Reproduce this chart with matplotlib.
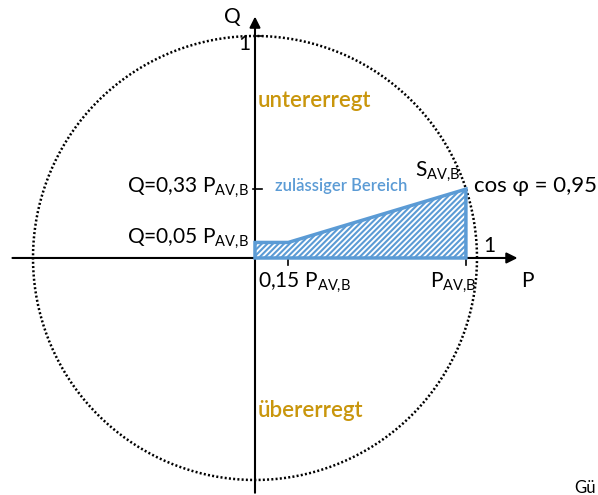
import numpy as np
import matplotlib.pyplot as plt
from matplotlib.patches import Polygon

plt.rcParams['font.family'] = ['Lato', 'DejaVu Sans']
plt.rcParams['mathtext.fontset'] = 'custom'
plt.rcParams['mathtext.rm'] = 'Lato'
plt.rcParams['mathtext.it'] = 'Lato:italic'
plt.rcParams['hatch.linewidth'] = 1.5

# --- operating range in per-unit of S ---
p_av = 0.95          # P_AV,B (cos phi = 0.95 on the unit circle)
p_knee = 0.15        # 0,15 P_AV,B
q_low = 0.07         # Q = 0,05 P_AV,B (drawn height)
q_high = 0.31        # Q = 0,33 P_AV,B

region_p = [0, 0, p_knee, p_av, p_av]
region_q = [0, q_low, q_low, q_high, 0]

blue = '#5B9BD5'
gold = '#C9960C'

fig = plt.figure(figsize=(5.98, 4.95), dpi=100)
ax = fig.add_axes([0, 0, 1, 1])
ax.set_xlim(-1.1486, 1.545)
ax.set_ylim(-1.0676, 1.162)
ax.axis('off')

# unit circle
theta = np.linspace(0, 2 * np.pi, 721)
ax.plot(np.cos(theta), np.sin(theta), color='black', lw=1.8, ls=(0, (0.8, 0.9)), zorder=1)

# axes with arrows
ax.annotate('', xy=(1.195, 0), xytext=(-1.105, 0),
            arrowprops=dict(arrowstyle='-|>', lw=1.5, color='black', mutation_scale=16))
ax.annotate('', xy=(0, 1.1), xytext=(0, -1.07),
            arrowprops=dict(arrowstyle='-|>', lw=1.5, color='black', mutation_scale=16))

# tick marks
ax.plot([0, 0.03], [1, 1], color='black', lw=1.2)
ax.plot([-0.01, 0.03], [q_high, q_high], color='black', lw=1.2)
ax.plot([p_knee, p_knee], [0, -0.03], color='black', lw=1.2)
ax.plot([p_av, p_av], [0, -0.03], color='black', lw=1.2)

# permitted region
poly = Polygon(list(zip(region_p, region_q)), closed=True, facecolor='white',
               edgecolor=blue, hatch='//////', lw=2.5, zorder=3)
ax.add_patch(poly)

fs = 15
sub = r'$_{\mathrm{AV{,}B}}$'
ax.text(-0.1, 1.085, 'Q', fontsize=fs, ha='center', va='center')
ax.text(-0.05, 0.965, '1', fontsize=fs, ha='center', va='center')
ax.text(0.01, 0.71, 'untererregt', fontsize=16, color=gold, weight='semibold', ha='left', va='center')
ax.text(0.01, -0.685, 'übererregt', fontsize=16, color=gold, weight='semibold', ha='left', va='center')
ax.text(-0.03, q_high + 0.005, 'Q=0,33 P' + sub, fontsize=fs, ha='right', va='center')
ax.text(-0.03, 0.085, 'Q=0,05 P' + sub, fontsize=fs, ha='right', va='center')
ax.text(0.09, q_high + 0.015, 'zulässiger Bereich', fontsize=12, color=blue, weight='semibold',
        ha='left', va='center')
ax.text(0.72, 0.39, 'S' + sub, fontsize=fs, ha='left', va='center')
ax.text(0.985, q_high + 0.015, 'cos φ = 0,95', fontsize=16, ha='left', va='center')
ax.text(1.03, 0.055, '1', fontsize=fs, ha='left', va='center')
ax.text(0.015, -0.11, '0,15 P' + sub, fontsize=fs, ha='left', va='center')
ax.text(0.79, -0.11, 'P' + sub, fontsize=fs, ha='left', va='center')
ax.text(1.2, -0.105, 'P', fontsize=fs, ha='left', va='center')
ax.text(1.44, -1.035, 'Gü', fontsize=12, ha='left', va='center')

fig.savefig('out.png', dpi=100)
